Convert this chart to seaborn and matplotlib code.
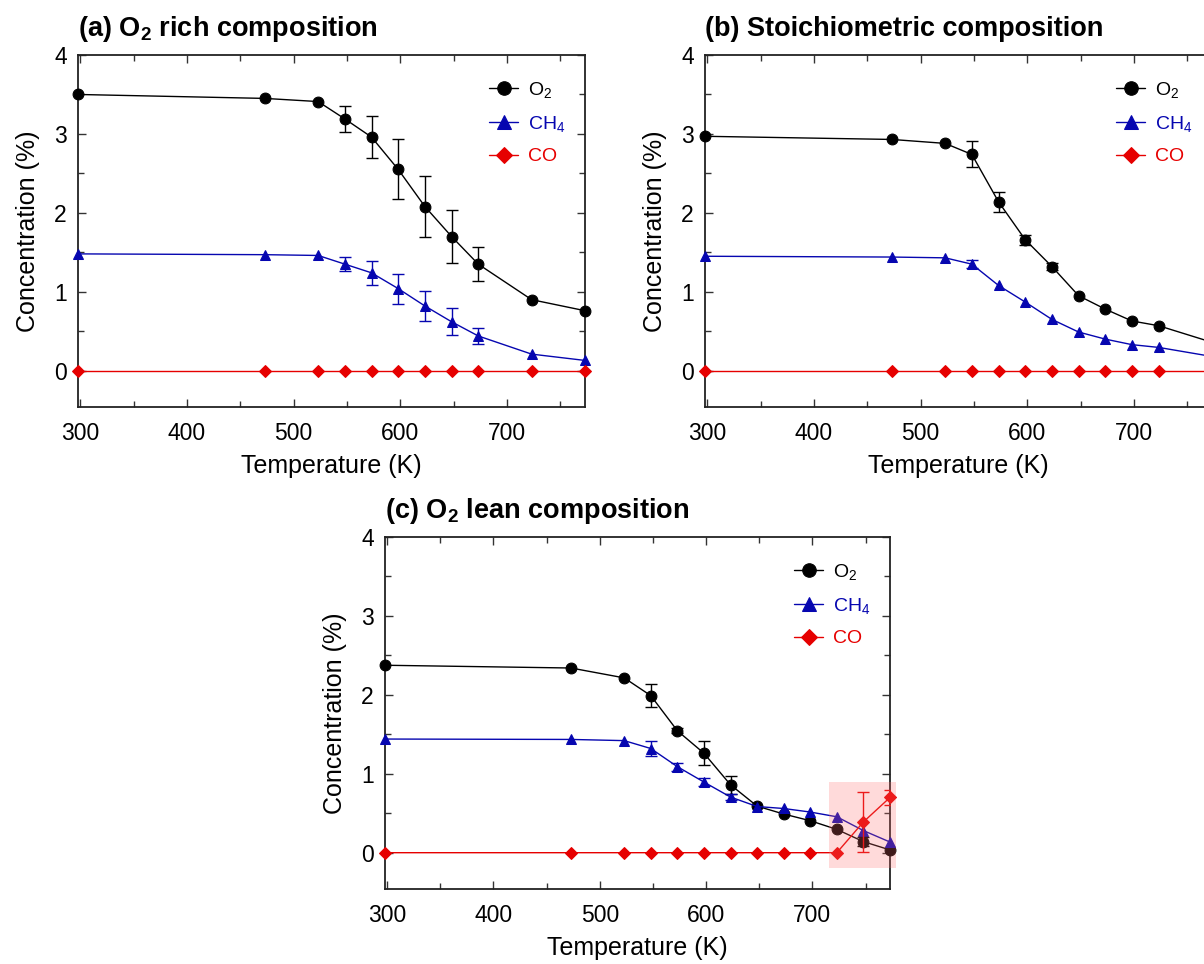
import numpy as np
import pandas as pd
import matplotlib
matplotlib.use("Agg")
import matplotlib.pyplot as plt
from matplotlib.patches import Rectangle
from matplotlib.ticker import MultipleLocator
import seaborn as sns

# ---------------- data ----------------
temp_a = [298, 473, 523, 548, 573, 598, 623, 648, 673, 723, 773]
o2_a = [3.50, 3.45, 3.41, 3.19, 2.96, 2.55, 2.08, 1.70, 1.35, 0.90, 0.76]
o2_a_err = [0, 0, 0, 0.16, 0.27, 0.38, 0.39, 0.335, 0.215, 0, 0]
ch4_a = [1.48, 1.47, 1.46, 1.35, 1.24, 1.04, 0.82, 0.62, 0.44, 0.21, 0.13]
ch4_a_err = [0, 0, 0, 0.09, 0.15, 0.19, 0.19, 0.17, 0.105, 0, 0]
co_a = [0, 0, 0, 0, 0, 0, 0, 0, 0, 0, 0]
co_a_err = [0, 0, 0, 0, 0, 0, 0, 0, 0, 0, 0]

temp_b = [298, 473, 523, 548, 573, 598, 623, 648, 673, 698, 723, 773]
o2_b = [2.97, 2.93, 2.88, 2.74, 2.14, 1.66, 1.32, 0.95, 0.78, 0.63, 0.57, 0.36]
o2_b_err = [0, 0, 0, 0.165, 0.125, 0.065, 0.04, 0, 0, 0, 0, 0]
ch4_b = [1.45, 1.44, 1.43, 1.35, 1.08, 0.87, 0.65, 0.49, 0.40, 0.33, 0.295, 0.18]
ch4_b_err = [0, 0, 0, 0.05, 0, 0, 0, 0, 0, 0, 0, 0]
co_b = [0, 0, 0, 0, 0, 0, 0, 0, 0, 0, 0, 0]
co_b_err = [0, 0, 0, 0, 0, 0, 0, 0, 0, 0, 0, 0]

temp_c = [298, 473, 523, 548, 573, 598, 623, 648, 673, 698, 723, 748, 773]
o2_c = [2.375, 2.34, 2.215, 1.99, 1.545, 1.26, 0.86, 0.59, 0.49, 0.405, 0.295, 0.14, 0.035]
o2_c_err = [0, 0, 0, 0.15, 0.03, 0.15, 0.11, 0, 0, 0, 0, 0.06, 0]
ch4_c = [1.44, 1.435, 1.42, 1.32, 1.09, 0.895, 0.705, 0.585, 0.56, 0.515, 0.455, 0.28, 0.135]
ch4_c_err = [0, 0, 0, 0.09, 0.05, 0.05, 0.04, 0, 0, 0, 0, 0, 0]
co_c = [0, 0, 0, 0, 0, 0, 0, 0, 0, 0, 0, 0.39, 0.70]
co_c_err = [0, 0, 0, 0, 0, 0, 0, 0, 0, 0, 0, 0.375, 0.10]

titles = [r"(a) $\mathbf{O_2}$ rich composition",
          r"(b) Stoichiometric composition",
          r"(c) $\mathbf{O_2}$ lean composition"]
series_labels = [r"O$_2$", r"CH$_4$", "CO"]
x_ticks = [300, 400, 500, 600, 700]
y_ticks = [0, 1, 2, 3, 4]

# highlighted region in panel (c): x range, y range
highlight_x = [716, 779]
highlight_y = [-0.2, 0.89]

# ---------------- style ----------------
sns.set_theme(style="ticks")
plt.rcParams['font.family'] = ['Liberation Sans', 'DejaVu Sans']
plt.rcParams['text.color'] = 'black'
plt.rcParams['axes.labelcolor'] = 'black'
plt.rcParams['mathtext.fontset'] = 'custom'
plt.rcParams['mathtext.rm'] = 'Liberation Sans'
plt.rcParams['mathtext.it'] = 'Liberation Sans:italic'
plt.rcParams['mathtext.bf'] = 'Liberation Sans:bold'
plt.rcParams['mathtext.default'] = 'regular'

colors = ["#000000", "#0606b0", "#e60000"]
markers = ["o", "^", "D"]
msizes = [7.8, 7.5, 6.5]

fig = plt.figure(figsize=(12.04, 9.64), dpi=100)
W, H = 1204, 964
def pos(l, t, r, b):
    return [l / W, 1 - b / H, (r - l) / W, (b - t) / H]

ax_a = fig.add_axes(pos(78, 55, 585, 407))
ax_b = fig.add_axes(pos(705, 55, 1212, 407))
ax_c = fig.add_axes(pos(385, 537, 890, 889))

panels = [
    (ax_a, temp_a, [(o2_a, o2_a_err), (ch4_a, ch4_a_err), (co_a, co_a_err)]),
    (ax_b, temp_b, [(o2_b, o2_b_err), (ch4_b, ch4_b_err), (co_b, co_b_err)]),
    (ax_c, temp_c, [(o2_c, o2_c_err), (ch4_c, ch4_c_err), (co_c, co_c_err)]),
]

for i, (ax, temps, series) in enumerate(panels):
    for j, (vals, errs) in enumerate(series):
        df = pd.DataFrame({"T": temps, "C": vals, "E": errs})
        sns.lineplot(data=df, x="T", y="C", ax=ax, color=colors[j],
                     marker=markers[j], markersize=msizes[j],
                     markeredgecolor=colors[j], linewidth=1.0,
                     label=series_labels[j], clip_on=False, zorder=3 + j * 0.1)
        m = df["E"] > 0
        if m.any():
            ax.errorbar(df["T"][m], df["C"][m], yerr=df["E"][m], fmt="none",
                        ecolor=colors[j], elinewidth=1.0, capsize=4,
                        capthick=1.0, zorder=4)
    ax.set_xlim(298, 773)
    ax.set_ylim(-0.46, 4)
    ax.set_xticks(x_ticks)
    ax.set_yticks(y_ticks)
    ax.xaxis.set_minor_locator(MultipleLocator(50))
    ax.yaxis.set_minor_locator(MultipleLocator(0.5))
    ax.tick_params(which="both", direction="in", top=True, right=True,
                   width=1.0, colors="#333333", labelcolor="black")
    ax.tick_params(which="major", length=6, labelsize=16.5)
    ax.tick_params(axis="x", which="major", pad=11)
    ax.tick_params(axis="y", which="major", pad=8)
    ax.tick_params(which="minor", length=4)
    for s in ax.spines.values():
        s.set_linewidth(1.3)
        s.set_color("#222222")
    ax.set_xlabel("Temperature (K)", fontsize=18, labelpad=6)
    ax.set_ylabel("Concentration (%)", fontsize=18, labelpad=10)
    ax.set_title(titles[i], loc="left", fontsize=19.5, fontweight="bold",
                 pad=14, color="black")
    leg = ax.legend(loc="upper right", frameon=False, fontsize=14,
                    labelcolor="linecolor", handlelength=1.5,
                    handletextpad=0.5, labelspacing=0.72, markerscale=1.25,
                    borderaxespad=0.6, bbox_to_anchor=(1.0, 0.985))

rect = Rectangle((highlight_x[0], highlight_y[0]),
                 highlight_x[1] - highlight_x[0],
                 highlight_y[1] - highlight_y[0],
                 facecolor="#ff6f6f", alpha=0.25, edgecolor="none",
                 zorder=6, clip_on=False)
ax_c.add_patch(rect)

fig.savefig("out.png", dpi=100)
